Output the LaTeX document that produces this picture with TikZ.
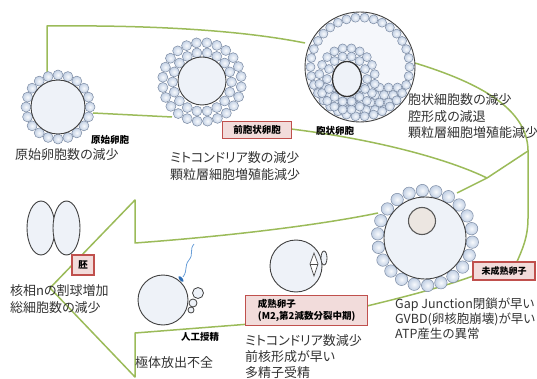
\documentclass[tikz,border=0pt]{standalone}
\usepackage{fontspec}
\setmainfont{Noto Sans CJK JP}[RawFeature=+palt]
\definecolor{arrowgreen}{HTML}{9BBB59}
\definecolor{tagred}{HTML}{C0504D}
\definecolor{tagfill}{HTML}{F2DCDB}
\definecolor{cellin}{HTML}{F8FAFD}
\definecolor{cellout}{HTML}{C2D0E4}
\definecolor{celledge}{HTML}{7C8BA3}
\definecolor{oofill}{HTML}{EEF2F8}
\definecolor{ink}{HTML}{333333}
\definecolor{nucfill}{HTML}{ECE6E1}
\definecolor{spermhead}{HTML}{2E6DB4}
\definecolor{spermtail}{HTML}{6A9FD8}

\tikzset{
  green line/.style={draw=arrowgreen, line width=1.5pt, line join=round},
  cellsh/.style={inner color=cellin, outer color=cellout, draw=celledge, line width=0.5pt},
  oocyte/.style={fill=oofill, draw=black!75, line width=0.9pt},
  tag/.style={draw=tagred, fill=tagfill, line width=1.3pt, inner xsep=3pt, inner ysep=2pt,
    font=\fontsize{9.5}{11}\selectfont\bfseries, text=black},
  cellname/.style={font=\fontsize{9.5}{11}\selectfont\bfseries, text=black, inner sep=0pt},
  note/.style={font=\fontsize{13}{16.5}\selectfont, text=ink, align=left, anchor=base west, inner sep=0pt},
}

% ring of granulosa cells: cx, cy, rx, ry, count, cell radius, start angle
\newcommand{\ringcells}[7]{%
  \foreach \k in {1,...,#5}{%
    \shadedraw[cellsh] ({#1+#3*cos(#7+360*\k/#5)},{#2+#4*sin(#7+360*\k/#5)}) circle (#6);
  }}

\begin{document}
\begin{tikzpicture}[x=1pt,y=-1pt]
\useasboundingbox (0,0) rectangle (537,379);

% ---------- the green loop arrow ----------
\coordinate (ga) at (47,72);
\coordinate (gb) at (47,26);
\coordinate (gc) at (305,43);
\draw[green line] (ga) -- (gb) .. controls (150,25) and (240,30) .. (gc);
\draw[green line] (415,63) .. controls (470,80) and (527,105) .. (528,150)
   -- (528,218) .. controls (528,238) and (522,250) .. (516,264);
\draw[green line] (473,276) .. controls (440,288) and (400,298) .. (367,306);
\coordinate (tipup) at (135,200);
\coordinate (tip) at (50,288);
\coordinate (tiplow) at (135,377);
\draw[green line] (250,324) -- (135,333) -- (tiplow) -- (tip) -- (tipup) -- (135,243)
   .. controls (230,236) and (320,225) .. (378,213);
\draw[green line] (93,113) -- (172,117);
\coordinate (gj) at (487,178);
\draw[green line] (291,129) .. controls (380,140) and (450,160) .. (gj);
\draw[green line] (528,151) -- (gj) -- (457,193);

% ---------- primordial follicle ----------
\ringcells{58}{107}{32}{32}{20}{5}{0}
\node[circle, oocyte, minimum size=54pt, inner sep=0pt] (prim) at (58,107) {};

% ---------- preantral follicle ----------
\ringcells{202}{82}{39.5}{39.5}{24}{5}{7}
\ringcells{202}{82}{29.5}{29.5}{18}{5}{0}
\node[circle, oocyte, minimum size=48pt, inner sep=0pt] (pre) at (202,81) {};

% ---------- antral follicle ----------
\fill[oofill!60!white] (360,67) circle (55);
\begin{scope}
  \clip (360,67) circle (52);
  \foreach \yy/\xo in {87.5/4.5, 95/0, 102.5/4.5, 110/0, 117.5/4.5}{
    \foreach \i in {0,...,13}{
      \shadedraw[cellsh] ({303+\xo+9*\i},\yy) circle (4.5);
    }}
\end{scope}
\ringcells{360}{67}{49.5}{49.5}{34}{4.5}{0}
\ringcells{347}{79}{28}{31}{20}{4.5}{9}
\ringcells{347}{79}{20}{23}{14}{4.5}{0}
\draw[fill=oofill, draw=black!80, line width=1.3pt] (347,79) ellipse (14.5 and 17.5);
\draw[black!75, line width=0.9pt] (360,67) circle (55);
\coordinate (antral) at (360,67);

% ---------- immature oocyte ----------
\ringcells{425}{238}{47.5}{47.5}{22}{6.2}{5}
\node[circle, oocyte, minimum size=82pt, inner sep=0pt] (imm) at (425,238) {};
\draw[fill=nucfill, draw=black!65, line width=1.1pt] (422,221) circle (13.5);

% ---------- mature (MII) oocyte ----------
\node[circle, oocyte, minimum size=52pt, inner sep=0pt] (mat) at (296,266) {};
\draw[black!70, line width=0.7pt, fill=white] (314,253) -- (318,264) -- (314,276) -- (310,264) -- cycle;
\draw[black!70, line width=0.7pt] (310,264) -- (318,264);
\draw[fill=oofill, draw=black!75, line width=0.8pt] (324,258) ellipse (3 and 7);

% ---------- inseminated oocyte ----------
\node[circle, oocyte, minimum size=50pt, inner sep=0pt] (ivf) at (163,300) {};
\draw[fill=oofill, draw=black!75, line width=0.8pt] (198,293) circle (5.5);
\draw[fill=oofill, draw=black!75, line width=0.8pt] (193,303) circle (4);
\draw[fill=oofill, draw=black!75, line width=0.8pt] (191,310) circle (3);
\draw[spermtail, line width=0.8pt] (183,277) .. controls (188,270) and (184,266) .. (189,260)
   .. controls (194,254) and (189,250) .. (194,244);
\fill[spermhead, rotate around={-50:(181,279)}] (181,279) ellipse (3.5 and 1.6);

% ---------- two-cell embryo ----------
\draw[fill=oofill, draw=black!75, line width=0.9pt] (41,228) ellipse (14 and 27);
\draw[fill=oofill, draw=black!75, line width=0.9pt] (66.5,228) ellipse (13.5 and 27);

% ---------- stage labels ----------
\node[cellname] (lbprim) at (110,140) {原始卵胞};
\node[tag, minimum width=69pt, minimum height=17pt] (lbpre) at (257,130) {前胞状卵胞};
\node[cellname] (lbantral) at (335,131) {胞状卵胞};
\node[tag, minimum width=62pt, minimum height=18pt, font=\fontsize{9}{11}\selectfont\bfseries] (lbimm) at (504,271) {未成熟卵子};
\node[tag, anchor=north west, align=left, font=\fontsize{9.5}{12}\selectfont\bfseries,
      minimum width=122pt, minimum height=30pt] (lbmat) at (245,295) {成熟卵子\\(M2,第2減数分裂中期)};
\node[tag, minimum width=22pt, minimum height=20pt, inner sep=0pt] (lbemb) at (83,265) {胚};
\node[cellname] (lbivf) at (200,337) {人工授精};

% ---------- notes (anchored at the baseline of their last line) ----------
\node[note] (t1) at (15,160) {原始卵胞数の減少};
\node[note, font=\fontsize{13}{17.5}\selectfont] (t2) at (170,180) {ミトコンドリア数の減少\\顆粒層細胞増殖能減少};
\node[note] (t3) at (408,138) {胞状細胞数の減少\\腔形成の減退\\顆粒層細胞増殖能減少};
\node[note] (t4) at (10,312) {核相nの割球増加\\総細胞数の減少};
\node[note] (t5) at (135,367) {極体放出不全};
\node[note, font=\fontsize{13}{16}\selectfont] (t6) at (245,377) {ミトコンドリア数減少\\前核形成が早い\\多精子受精};
\node[note, font=\fontsize{12.5}{15}\selectfont] (t7) at (395,338) {Gap Junction閉鎖が早い\\GVBD(卵核胞崩壊)が早い\\ATP産生の異常};
\end{tikzpicture}
\end{document}
